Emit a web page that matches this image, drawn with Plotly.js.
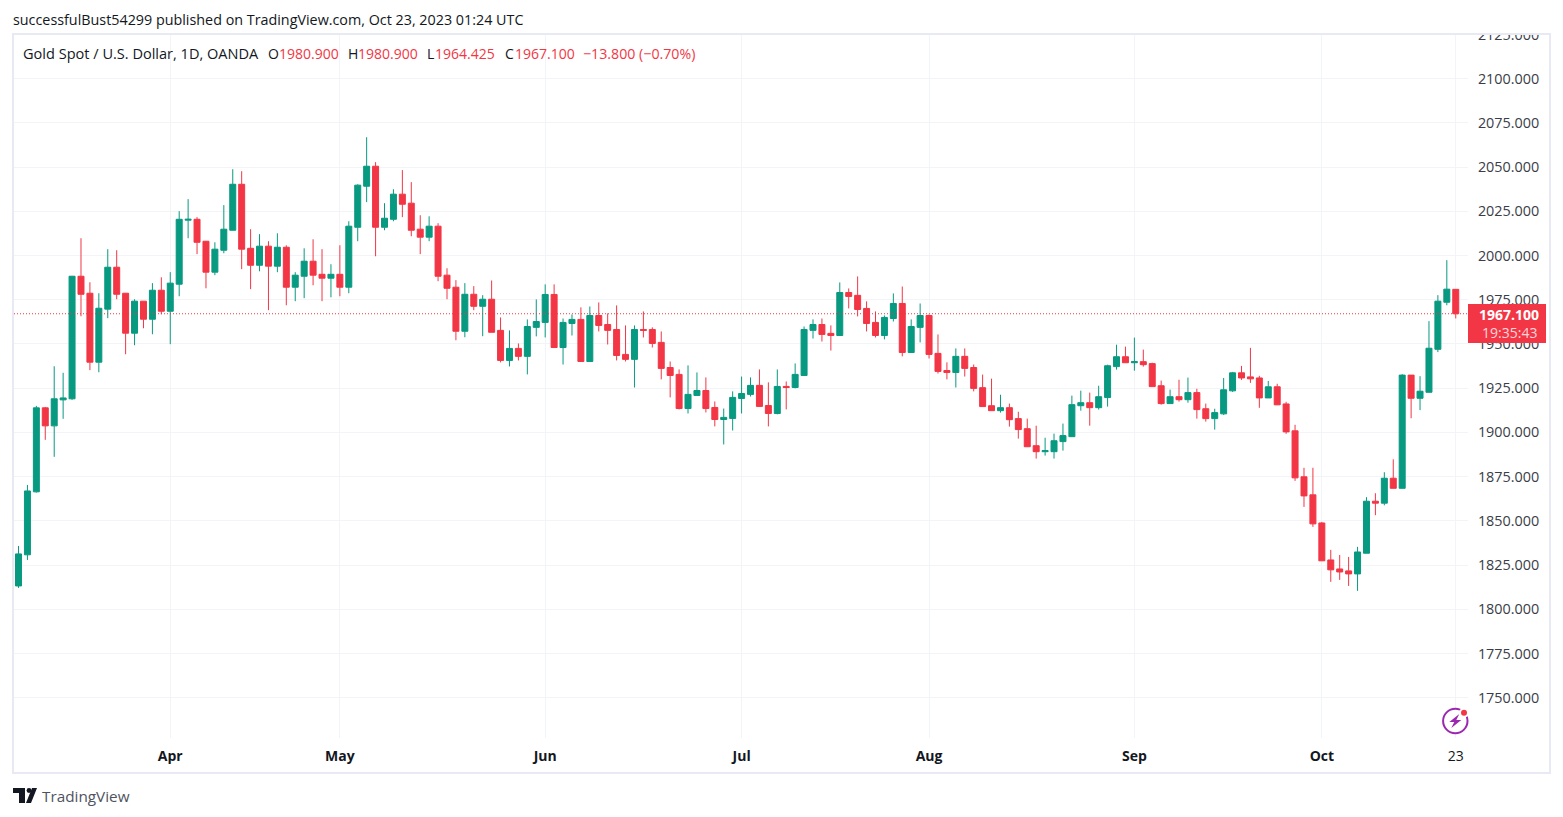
<!DOCTYPE html>
<html>
<head>
<meta charset="utf-8">
<script src="https://cdn.plot.ly/plotly-3.0.1.min.js"></script>
<style>html,body{margin:0;padding:0;background:#fff}#chart{width:1563px;height:817px}</style>
</head>
<body>
<div id="chart"></div>
<script>
const opens = [
1813.2,1830.8,1866.4,1913.9,1903.7,1918.4,1919.0,1988.3,1978.7,1939.7,
1969.7,1993.4,1978.7,1956.1,1974.2,1964.0,1980.4,1968.5,1983.8,2020.0,
2020.5,2008.1,1990.6,2003.0,2014.3,2040.3,2004.1,1994.5,2005.3,1994.0,
2004.7,1982.1,1988.3,1996.8,1989.4,1987.2,1989.4,1982.1,2016.0,2039.2,
2050.5,2016.0,2020.5,2034.7,2029.6,2014.9,2010.4,2016.6,1988.9,1982.1,
1957.2,1978.1,1971.3,1975.3,1957.7,1940.7,1947.5,1943.0,1959.4,1962.2,
1978.0,1948.0,1961.6,1963.9,1940.1,1966.1,1961.0,1958.2,1944.1,1941.3,
1958.2,1958.2,1950.9,1936.7,1932.8,1913.5,1920.9,1923.7,1914.1,1907.3,
1907.9,1919.2,1921.5,1926.6,1915.2,1910.7,1926.0,1925.4,1932.2,1957.7,
1961.0,1956.0,1954.8,1979.1,1977.5,1970.1,1962.2,1954.8,1964.4,1972.9,
1945.2,1959.4,1966.1,1944.7,1935.0,1933.9,1943.0,1936.7,1925.3,1915.1,
1912.3,1914.0,1907.8,1902.1,1892.5,1889.1,1889.1,1894.8,1897.6,1915.1,
1916.8,1914.0,1919.7,1937.2,1942.8,1939.4,1940.0,1938.9,1926.4,1916.3,
1920.2,1918.5,1922.5,1913.4,1907.8,1910.5,1923.5,1933.7,1931.4,1930.8,
1919.5,1925.8,1916.1,1900.9,1874.9,1864.7,1848.8,1827.9,1822.8,1821.7,
1820.0,1831.7,1861.1,1860.0,1874.1,1868.4,1932.4,1919.3,1922.7,1947.0,
1973.6,1980.9];
const highs = [
1835.8,1870.3,1915.0,1914.4,1937.4,1933.7,1988.5,2009.8,1984.9,1978.7,
2003.6,2003.0,1978.7,1975.3,1974.2,1984.4,1987.7,1990.6,2025.1,2031.9,
2021.7,2008.1,2007.5,2028.5,2048.8,2047.7,2014.9,2012.1,2008.1,2012.6,
2005.8,1990.6,2004.1,2009.2,2003.6,1995.1,2005.8,2019.4,2040.3,2066.9,
2052.8,2029.6,2037.5,2048.3,2041.5,2022.8,2022.2,2018.3,1992.8,1986.1,
1984.4,1982.7,1977.6,1985.9,1965.0,1957.7,1950.3,1963.9,1975.2,1983.7,
1983.7,1964.4,1966.7,1970.7,1971.2,1973.5,1967.3,1971.8,1960.5,1960.5,
1968.4,1959.4,1957.1,1940.1,1935.6,1937.9,1933.9,1931.1,1917.5,1913.5,
1923.2,1931.6,1931.1,1935.6,1928.3,1935.6,1928.8,1939.0,1959.9,1963.9,
1964.4,1960.5,1984.8,1981.4,1988.2,1974.1,1968.4,1966.1,1978.6,1982.5,
1963.9,1972.9,1966.7,1955.4,1939.6,1947.5,1947.5,1938.4,1932.7,1930.4,
1921.3,1916.3,1911.7,1907.8,1903.8,1897.0,1899.3,1905.0,1920.8,1923.6,
1922.5,1926.4,1938.3,1949.6,1948.5,1953.6,1946.8,1939.4,1929.3,1924.2,
1929.8,1931.0,1924.7,1916.3,1913.4,1930.8,1934.2,1937.6,1947.8,1932.0,
1929.1,1927.5,1917.3,1904.3,1880.0,1880.0,1849.4,1833.6,1830.7,1829.6,
1835.3,1863.4,1865.6,1877.5,1884.8,1932.9,1932.4,1931.8,1962.9,1977.6,
1997.4,1980.9];
const lows = [
1812.1,1827.9,1866.0,1895.8,1886.2,1907.7,1918.4,1965.7,1935.2,1934.0,
1964.6,1975.3,1944.2,1949.3,1958.9,1955.5,1966.8,1949.9,1977.0,2009.8,
2000.8,1981.5,1988.9,2001.3,2014.3,1992.3,1981.0,1991.1,1969.1,1990.6,
1971.9,1974.2,1975.9,1983.2,1974.2,1976.4,1977.0,1978.7,2008.1,2030.2,
1999.6,2014.3,2019.4,2021.7,2010.9,2000.8,2008.1,1985.5,1975.3,1952.1,
1953.8,1969.1,1954.4,1956.6,1939.6,1937.3,1940.7,1932.8,1954.3,1953.7,
1948.0,1938.4,1954.8,1940.1,1940.1,1957.1,1949.7,1940.7,1940.1,1925.4,
1953.7,1948.0,1930.0,1919.8,1913.0,1910.7,1920.9,1911.3,1903.4,1893.2,
1901.1,1910.7,1920.3,1914.7,1903.4,1910.2,1913.0,1924.9,1932.2,1953.1,
1951.4,1946.3,1954.8,1970.1,1965.6,1957.1,1953.7,1952.6,1962.7,1943.0,
1945.2,1950.9,1941.8,1933.3,1930.0,1925.4,1931.6,1923.2,1914.6,1912.3,
1911.2,1903.3,1896.5,1891.9,1885.2,1886.9,1885.2,1889.7,1897.6,1912.3,
1903.8,1912.9,1914.6,1935.5,1939.4,1934.9,1937.2,1925.9,1915.7,1916.3,
1917.4,1916.8,1907.8,1906.1,1901.6,1909.9,1922.9,1929.7,1928.0,1913.9,
1919.5,1915.6,1899.2,1872.6,1857.9,1846.6,1827.4,1815.5,1816.6,1813.2,
1810.4,1831.7,1853.2,1858.8,1868.4,1868.4,1908.0,1912.6,1922.7,1945.4,
1971.9,1964.425];
const closes = [
1831.3,1866.9,1913.9,1903.7,1919.0,1919.5,1988.3,1978.1,1939.7,1970.2,
1993.4,1978.1,1956.1,1974.2,1964.0,1980.4,1968.5,1984.4,2020.5,2020.5,
2007.5,1990.6,2003.6,2014.9,2040.3,2003.6,1994.5,2005.3,1994.0,2004.7,
1982.1,1988.9,1996.8,1988.9,1987.2,1989.4,1982.1,2016.6,2039.8,2050.5,
2016.0,2021.1,2034.7,2029.0,2014.3,2010.4,2016.6,1988.3,1981.5,1957.2,
1978.1,1971.3,1975.3,1956.6,1940.7,1947.5,1943.0,1959.9,1962.7,1978.0,
1948.0,1962.2,1963.9,1940.1,1966.1,1960.5,1957.7,1943.5,1941.3,1958.2,
1957.7,1950.3,1936.2,1932.2,1913.5,1921.5,1923.7,1913.5,1907.3,1908.5,
1919.8,1922.0,1926.6,1914.7,1910.7,1926.0,1925.4,1932.8,1958.2,1961.0,
1955.4,1954.8,1979.1,1976.9,1969.5,1961.6,1954.8,1965.0,1972.9,1945.2,
1959.9,1966.1,1944.1,1934.5,1933.9,1943.0,1936.2,1924.9,1914.6,1912.3,
1914.0,1907.2,1901.6,1891.9,1889.1,1889.7,1895.3,1898.2,1915.7,1916.8,
1914.0,1920.2,1937.7,1942.8,1939.4,1940.0,1938.3,1925.9,1916.3,1920.2,
1918.5,1922.5,1912.9,1907.8,1911.2,1924.1,1933.7,1930.8,1930.3,1919.5,
1925.8,1915.6,1900.3,1874.3,1864.1,1848.3,1827.4,1822.3,1821.1,1820.0,
1832.4,1861.1,1860.0,1874.1,1868.4,1932.4,1919.3,1923.3,1947.6,1974.2,
1981.0,1967.1];

const monthTickIndex = [17,36,59,81,102,125,146,161];
const monthTickText = ['<b>Apr</b>','<b>May</b>','<b>Jun</b>','<b>Jul</b>','<b>Aug</b>','<b>Sep</b>','<b>Oct</b>','23'];
const priceTicks = [1750,1775,1800,1825,1850,1875,1900,1925,1950,1975,2000,2025,2050,2075,2100,2125];
const lastPrice = 1967.1;
const UP = '#089981', DOWN = '#F23645', GRID = '#f3f4f8', FRAME = '#e9e9f3';
const FONT = '"Open Sans", sans-serif';

const W = 1563, H = 817, L = 14, R = 1468, T = 33, B = 738;
const fx = x => (x - L) / (R - L);
const fy = y => 1 - (y - T) / (B - T);
const X0 = 18.5, DX = 8.927;

function label(text, x, y, color, size, anchor) {
  return {text, xref:'paper', yref:'paper', x:fx(x), y:fy(y), showarrow:false,
    xanchor:anchor||'left', yanchor:'middle', borderpad:0, borderwidth:0,
    font:{family:FONT, size:size||14, color:color||'#131722'}};
}
function pxShape(cx, cy, s) {
  return Object.assign({xref:'paper', yref:'paper', xsizemode:'pixel', ysizemode:'pixel',
    xanchor:fx(cx), yanchor:fy(cy), layer:'above'}, s);
}
function disc(cx, cy, r, fill, line, lw) {
  return pxShape(cx, cy, {type:'circle', x0:-r, x1:r, y0:-r, y1:r, fillcolor:fill,
    line:{color:line||fill, width:lw===undefined?0:lw}});
}

const xRange = [(L-X0)/DX, (R-X0)/DX];

const candles = {
  type:'candlestick',
  x: opens.map((_, i) => i),
  open: opens, high: highs, low: lows, close: closes,
  increasing:{line:{color:UP, width:1}, fillcolor:UP},
  decreasing:{line:{color:DOWN, width:1}, fillcolor:DOWN},
  whiskerwidth:0, hoverinfo:'skip', showlegend:false
};
const priceLine = {
  type:'scatter', mode:'lines', x:xRange, y:[lastPrice, lastPrice],
  line:{color:DOWN, width:1, dash:'1px,2px'}, hoverinfo:'skip', showlegend:false
};

const layout = {
  width:W, height:H, paper_bgcolor:'#fff', plot_bgcolor:'#fff', showlegend:false,
  margin:{l:L, r:W-R, t:T, b:H-B, pad:0},
  boxgap:0.33, boxgroupgap:0,
  font:{family:FONT, size:14, color:'#131722'},
  xaxis:{type:'linear', range:xRange, rangeslider:{visible:false},
    tickmode:'array', tickvals:monthTickIndex, ticktext:monthTickText,
    showgrid:true, gridcolor:GRID, gridwidth:1, zeroline:false, showline:false,
    ticks:'outside', ticklen:5, tickcolor:'rgba(0,0,0,0)', tickfont:{family:FONT, size:14, color:'#131722'}},
  yaxis:{side:'right', range:[1925-(B-388.2)*0.5654, 1925+(388.2-T)*0.5654],
    tickmode:'array', tickvals:priceTicks, tickformat:'.3f',
    showgrid:true, gridcolor:GRID, gridwidth:1, zeroline:false, showline:false,
    ticks:'outside', ticklen:6, tickcolor:'rgba(0,0,0,0)', tickfont:{family:FONT, size:14.4, color:'#3a3d47'}},
  shapes:[
    {type:'rect', xref:'paper', yref:'paper', x0:fx(0), x1:fx(W), y0:fy(0), y1:fy(33.5), layer:'above',
      fillcolor:'#fff', line:{width:0}},
    {type:'rect', xref:'paper', yref:'paper', x0:fx(1468), x1:fx(1546), y0:fy(304), y1:fy(343), layer:'above',
      fillcolor:DOWN, line:{width:0}},
    {type:'rect', xref:'paper', yref:'paper', x0:fx(13), x1:fx(1550), y0:fy(34), y1:fy(773), layer:'above',
      fillcolor:'rgba(0,0,0,0)', line:{color:FRAME, width:2}},
    disc(1455.3, 721, 12.2, '#fff', '#9c27b0', 2),
    pxShape(1455.3, 721, {type:'path', path:'M 4 7 L -6 -1 L -1 -1 L -4 -7 L 6 1 L 1 1 Z', fillcolor:'#9c27b0', line:{width:0}}),
    disc(1464, 712.7, 5, '#fff'),
    disc(1464, 712.7, 3, DOWN),
    pxShape(13, 788, {type:'path', path:'M 0 0 L 12 0 L 12 -15 L 6 -15 L 6 -5 L 0 -5 Z', fillcolor:'#131722', line:{width:0}}),
    disc(29, 790.5, 2.4, '#131722'),
    pxShape(13, 788, {type:'path', path:'M 13 -15 L 19 0 L 24 0 L 18 -15 Z', fillcolor:'#131722', line:{width:0}})
  ],
  annotations:[
    label('successfulBust54299 published on TradingView.com, Oct 23, 2023 01:24 UTC', 13, 19.5, '#131722', 14.33),
    label('Gold Spot / U.S. Dollar, 1D, OANDA', 23, 53.5, '#131722', 14.55),
    label('O', 268, 53.5, '#131722', 14), label('1980.900', 279, 53.5, DOWN, 14),
    label('H', 348, 53.5, '#131722', 14), label('1980.900', 358, 53.5, DOWN, 14),
    label('L', 427, 53.5, '#131722', 14), label('1964.425', 435, 53.5, DOWN, 14),
    label('C', 505, 53.5, '#131722', 14), label('1967.100', 515, 53.5, DOWN, 14),
    label('−13.800 (−0.70%)', 583, 53.5, DOWN, 14.2),
    label('<b>1967.100</b>', 1509, 314.5, '#ffffff', 14, 'center'),
    label('19:35:43', 1509, 333, 'rgba(255,255,255,0.8)', 14, 'center'),
    label('TradingView', 42, 796, '#50535e', 15.3)
  ]
};

Plotly.newPlot('chart', [candles, priceLine], layout, {staticPlot:true, displayModeBar:false});
</script>
</body>
</html>
